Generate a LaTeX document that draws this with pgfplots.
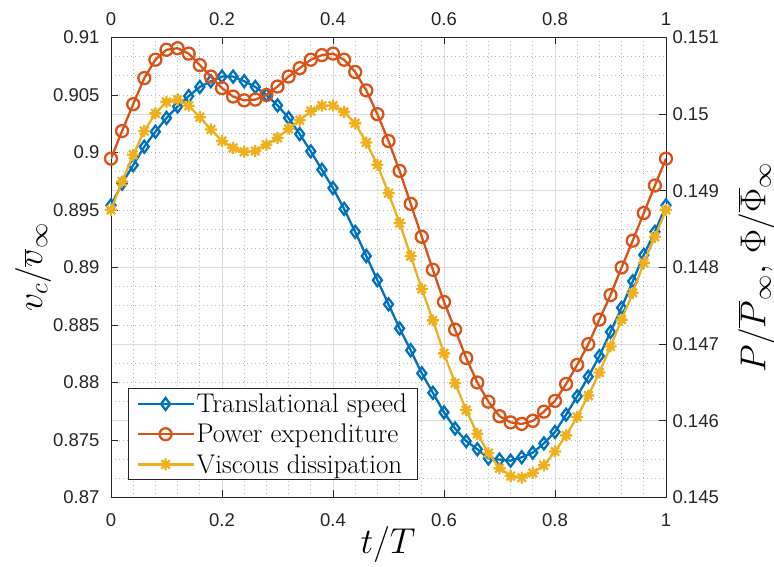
\RequirePackage{fix-cm}
\documentclass[border=0pt]{standalone}
\usepackage{fontspec}
\usepackage{pgfplots}
\usepackage{pgfplotstable}
\pgfplotsset{compat=1.18}
\newfontfamily\tickfont{Liberation Sans}
\definecolor{mblue}{rgb}{0,0.447,0.741}
\definecolor{morange}{rgb}{0.85,0.325,0.098}
\definecolor{myellow}{rgb}{0.929,0.694,0.125}
\definecolor{axcol}{rgb}{0.15,0.15,0.15}

\pgfdeclareplotmark{mstar}{%
 \pgfpathmoveto{\pgfqpoint{-\pgfplotmarksize}{0pt}}\pgfpathlineto{\pgfqpoint{\pgfplotmarksize}{0pt}}%
 \pgfpathmoveto{\pgfqpoint{0pt}{-\pgfplotmarksize}}\pgfpathlineto{\pgfqpoint{0pt}{\pgfplotmarksize}}%
 \pgfpathmoveto{\pgfqpoint{-.707\pgfplotmarksize}{-.707\pgfplotmarksize}}\pgfpathlineto{\pgfqpoint{.707\pgfplotmarksize}{.707\pgfplotmarksize}}%
 \pgfpathmoveto{\pgfqpoint{-.707\pgfplotmarksize}{.707\pgfplotmarksize}}\pgfpathlineto{\pgfqpoint{.707\pgfplotmarksize}{-.707\pgfplotmarksize}}%
 \pgfusepathqstroke}

\pgfplotstableread{
t v p phi
0.00 0.8954 0.14942 0.14875
0.02 0.8973 0.14978 0.14912
0.04 0.8989 0.15013 0.14947
0.06 0.9005 0.15047 0.14978
0.08 0.9018 0.15071 0.15001
0.10 0.9030 0.15084 0.15016
0.12 0.9040 0.15086 0.15019
0.14 0.9049 0.15079 0.15011
0.16 0.9057 0.15064 0.14996
0.18 0.9062 0.15049 0.14980
0.20 0.9066 0.15034 0.14965
0.22 0.9066 0.15023 0.14956
0.24 0.9062 0.15018 0.14951
0.26 0.9057 0.15019 0.14952
0.28 0.9050 0.15025 0.14960
0.30 0.9041 0.15036 0.14969
0.32 0.9030 0.15049 0.14981
0.34 0.9016 0.15060 0.14992
0.36 0.9001 0.15071 0.15004
0.38 0.8985 0.15077 0.15011
0.40 0.8969 0.15079 0.15011
0.42 0.8951 0.15071 0.15003
0.44 0.8931 0.15055 0.14988
0.46 0.8910 0.15031 0.14963
0.48 0.8889 0.15000 0.14934
0.50 0.8868 0.14965 0.14897
0.52 0.8847 0.14926 0.14858
0.54 0.8828 0.14883 0.14815
0.56 0.8808 0.14840 0.14772
0.58 0.8791 0.14797 0.14731
0.60 0.8774 0.14755 0.14688
0.62 0.8760 0.14719 0.14649
0.64 0.8749 0.14682 0.14614
0.66 0.8742 0.14650 0.14583
0.68 0.8734 0.14625 0.14558
0.70 0.8733 0.14606 0.14538
0.72 0.8732 0.14598 0.14528
0.74 0.8735 0.14596 0.14526
0.76 0.8739 0.14600 0.14532
0.78 0.8747 0.14612 0.14542
0.80 0.8757 0.14626 0.14560
0.82 0.8772 0.14648 0.14581
0.84 0.8788 0.14673 0.14605
0.86 0.8805 0.14700 0.14633
0.88 0.8823 0.14732 0.14663
0.90 0.8844 0.14764 0.14697
0.92 0.8865 0.14800 0.14732
0.94 0.8888 0.14835 0.14767
0.96 0.8911 0.14871 0.14806
0.98 0.8931 0.14907 0.14840
1.00 0.8954 0.14942 0.14875
}\data

\pgfplotsset{common/.style={
  scale only axis, width=555pt, height=460pt,
  xmin=0, xmax=1, xtick={0,0.2,0.4,0.6,0.8,1},
  axis line style={axcol, line width=0.9pt},
  tick style={axcol, line width=0.9pt},
  major tick length=7pt, minor tick length=0pt, tick align=inside,
  ticklabel style={font=\tickfont\fontsize{18.5}{20}\selectfont, text=axcol},
  /pgf/number format/assume math mode=true,
  /pgf/number format/fixed, /pgf/number format/precision=3,
  label style={font=\fontsize{36}{38}\selectfont, text=black},
  legend image code/.code={\draw[mark repeat=2,mark phase=2,##1] plot coordinates {(0pt,0pt) (28pt,0pt) (56pt,0pt)};},
}}

\begin{document}
\begin{tikzpicture}
\useasboundingbox (-111pt,-69.5pt) rectangle (663pt,497.5pt);
% background: grid, bottom and right ticks
\begin{axis}[common,
  ymin=0.145, ymax=0.151,
  ytick={0.145,0.146,0.147,0.148,0.149,0.15,0.151},
  minor x tick num=4, minor y tick num=3,
  grid=both,
  major grid style={color=black!14, line width=0.8pt},
  minor grid style={color=black!28, line width=0.8pt, dash pattern=on 0.8pt off 3.2pt},
  xtick pos=bottom, ytick pos=right, yticklabel pos=right,
  xticklabel style={yshift=-13pt},
  yticklabel style={xshift=3pt},
  xlabel={$t/T$},
  xlabel style={at={(axis description cs:0.499,-0.103)}, anchor=center},
  ylabel={$P/\overline{P}_\infty,\,\Phi/\overline{\Phi}_\infty$},
  ylabel style={at={(axis description cs:1.163,0.5)}, anchor=center, rotate=0},
]
\end{axis}
% left axis: translational speed, top and left ticks
\begin{axis}[common,
  ymin=0.87, ymax=0.91,
  ytick={0.87,0.875,0.88,0.885,0.89,0.895,0.9,0.905,0.91},
  xtick pos=top, xticklabel pos=top, ytick pos=left, yticklabel pos=left,
  xticklabel style={yshift=8pt},
  yticklabel style={xshift=-8pt},
  ylabel={$v_c/\overline{v}_\infty$},
  ylabel style={at={(axis description cs:-0.1405,0.5)}, anchor=center},
]
\addplot[mblue, line width=2.3pt, mark=diamond, mark size=6pt, mark options={solid}] table[x=t, y=v] {\data};
\end{axis}
% right axis: power and dissipation, legend
\begin{axis}[common, hide axis,
  ymin=0.145, ymax=0.151,
  legend style={at={(axis description cs:0.0306,0.038)}, anchor=south west,
    draw=axcol, line width=0.9pt, fill=white,
    font=\fontsize{27}{30}\selectfont, row sep=6pt, inner xsep=8pt, inner ysep=3pt},
  legend cell align=left,
]
\addlegendimage{mblue, line width=2.3pt, mark=diamond, mark size=6pt}
\addlegendentry{Translational speed}
\addplot[morange, line width=2.3pt, mark=o, mark size=6pt] table[x=t, y=p] {\data};
\addlegendentry{Power expenditure}
\addplot[myellow, line width=2.3pt, mark=mstar, mark size=6pt] table[x=t, y=phi] {\data};
\addlegendentry{Viscous dissipation}
\end{axis}
\end{tikzpicture}
\end{document}
